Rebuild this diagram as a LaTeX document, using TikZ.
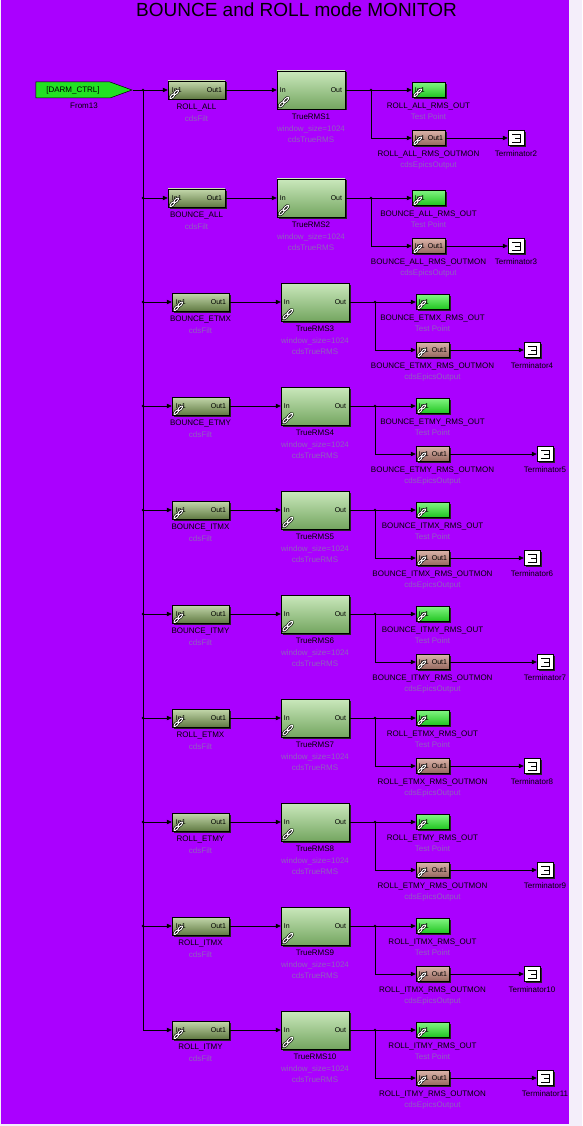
\documentclass[tikz,border=0pt]{standalone}
\usepackage{fontspec}
\setmainfont{Liberation Sans}
\usetikzlibrary{positioning,shapes.symbols,shadows,arrows.meta}
\definecolor{bgpurple}{RGB}{170,0,255}
\definecolor{bgfaint}{RGB}{244,238,250}
\definecolor{subtxt}{RGB}{142,98,188}
\definecolor{fromgreen}{RGB}{34,226,34}
\definecolor{filtTop}{RGB}{196,216,172}
\definecolor{filtBot}{RGB}{96,122,66}
\definecolor{rmsTop}{RGB}{202,232,188}
\definecolor{rmsBot}{RGB}{116,166,96}
\definecolor{tpTop}{RGB}{128,244,128}
\definecolor{tpBot}{RGB}{30,196,30}
\definecolor{omTop}{RGB}{218,178,168}
\definecolor{omBot}{RGB}{148,104,94}

\tikzset{chain/.pic={
  \foreach \s in {-1,1}
    \draw[black, line width=2.2pt, shift={(1.9*\s,-1.9*\s)}, rotate=45] (0,0) ellipse [x radius=3, y radius=1.3];
  \foreach \s in {-1,1}
    \draw[white, line width=1pt, shift={(1.9*\s,-1.9*\s)}, rotate=45] (0,0) ellipse [x radius=3, y radius=1.3];
}}

\begin{document}
\begin{tikzpicture}
  [x=1pt, y=-1pt, >={Triangle[length=5pt,width=4.5pt]},
   every node/.style={inner sep=0pt, font=\fontsize{8}{11.5}\selectfont},
   blk/.style={draw, line width=0.5pt,
     drop shadow={shadow xshift=1.5pt, shadow yshift=-1.5pt, fill=black!85, opacity=1}},
   filt/.style={blk, minimum width=57pt, minimum height=18pt, top color=filtTop, bottom color=filtBot},
   rms/.style={blk, minimum width=68pt, minimum height=38pt, top color=rmsTop, bottom color=rmsBot},
   tpoint/.style={blk, minimum width=33pt, minimum height=15pt, top color=tpTop, bottom color=tpBot},
   outmon/.style={blk, minimum width=33pt, minimum height=15pt, top color=omTop, bottom color=omBot},
   term/.style={blk, fill=white, minimum width=16pt, minimum height=15pt,
     path picture={
       \draw[line width=0.6pt] ([shift={(-4,-4)}]path picture bounding box.center)
         -- ++(8,0) -- ++(0,8) -- ++(-8,0)
         ([shift={(-1,0)}]path picture bounding box.center) -- ++(5,0);}},
   port/.style={font=\fontsize{7}{8}\selectfont},
   lbl/.style={align=center},
   wire/.style={line width=0.6pt, ->}]
  \useasboundingbox (0,0) rectangle (582,1126);
  \fill[bgfaint] (0,0) rectangle (582,1126);
  \fill[bgpurple] (1,0) rectangle (569,1124);

  \node[font=\fontsize{19}{22}\selectfont] (title) at (296.5,10) {BOUNCE and ROLL mode MONITOR};

  % source tag and trunk
  \node[signal, signal to=east, signal pointer angle=40, draw, line width=0.5pt, fill=fromgreen,
        minimum width=96pt, minimum height=16pt] (from) at (73,90) {[DARM\_CTRL]};
  \node[lbl, below=4.5pt of from, xshift=11pt] (fromlbl) {From13};
  \coordinate (j1) at (143,90);
  \coordinate (j10) at (143,1030);
  \draw[line width=0.6pt] (from.east) -- (j1) -- (j10);

  \foreach \i/\y/\nm/\dx/\tx in {1/90/ROLL\_ALL/0/508, 2/198/BOUNCE\_ALL/0/508,
      3/302/BOUNCE\_ETMX/4/524, 4/406/BOUNCE\_ETMY/4/537, 5/510/BOUNCE\_ITMX/4/524,
      6/614/BOUNCE\_ITMY/4/537, 7/718/ROLL\_ETMX/4/524, 8/822/ROLL\_ETMY/4/537,
      9/926/ROLL\_ITMX/4/524, 10/1030/ROLL\_ITMY/4/537}{
    \pgfmathtruncatemacro\tn{\i+1}
    \coordinate (j\i) at (143,\y);
    \coordinate (b\i) at ({371+\dx},\y);
    % blocks
    \node[filt] (f\i) at ({196.5+\dx},\y) {};
    \node[port, anchor=west] (fi\i) at ([xshift=4pt]f\i.west) {In1};
    \node[port, anchor=east] (fo\i) at ([xshift=-3pt]f\i.east) {Out1};
    \pic at ([shift={(6.5,-5)}]f\i.south west) {chain};
    \node[rms] (r\i) at ({311+\dx},\y) {};
    \node[port, anchor=west] (ri\i) at ([xshift=3pt]r\i.west) {In};
    \node[port, anchor=east] (ro\i) at ([xshift=-3pt]r\i.east) {Out};
    \pic[scale=1.15] at ([shift={(7,-7)}]r\i.south west) {chain};
    \node[tpoint] (tp\i) at ({428.5+\dx},\y) {};
    \node[port, anchor=west] (tpi\i) at ([xshift=3pt]tp\i.west) {In1};
    \pic[scale=0.9] at ([shift={(6,-5)}]tp\i.south west) {chain};
    \node[outmon] (om\i) at ({428.5+\dx},{\y+48}) {};
    \node[port, anchor=west] (omi\i) at ([xshift=3pt]om\i.west) {In1};
    \node[port, anchor=east] (omo\i) at ([xshift=-2pt]om\i.east) {Out1};
    \pic[scale=0.9] at ([shift={(6,-5)}]om\i.south west) {chain};
    \node[term] (t\i) at ({\tx+8},{\y+48}) {};
    % labels
    \node[lbl, below=4.5pt of f\i] (fl\i) {\nm\\\textcolor{subtxt}{cdsFilt}};
    \node[lbl, below=4.5pt of r\i] (rl\i) {TrueRMS\i\\\textcolor{subtxt}{window\_size=1024}\\\textcolor{subtxt}{cdsTrueRMS}};
    \node[lbl, below=4.5pt of tp\i] (tpl\i) {\nm\_RMS\_OUT\\\textcolor{subtxt}{Test Point}};
    \node[lbl, below=4.5pt of om\i] (oml\i) {\nm\_RMS\_OUTMON\\\textcolor{subtxt}{cdsEpicsOutput}};
    \node[lbl, below=4.5pt of t\i] (tl\i) {Terminator\tn};
    % wires
    \draw[wire] (j\i) -- (f\i.west);
    \draw[wire] (f\i.east) -- (r\i.west);
    \draw[wire] (r\i.east) -- (tp\i.west);
    \draw[wire] (b\i) |- (om\i.west);
    \draw[wire] (om\i.east) -- (t\i.west);
    \fill (b\i) circle [radius=1.4];
    \ifnum\i<10 \fill (j\i) circle [radius=1.4]; \fi
  }
\end{tikzpicture}
\end{document}
